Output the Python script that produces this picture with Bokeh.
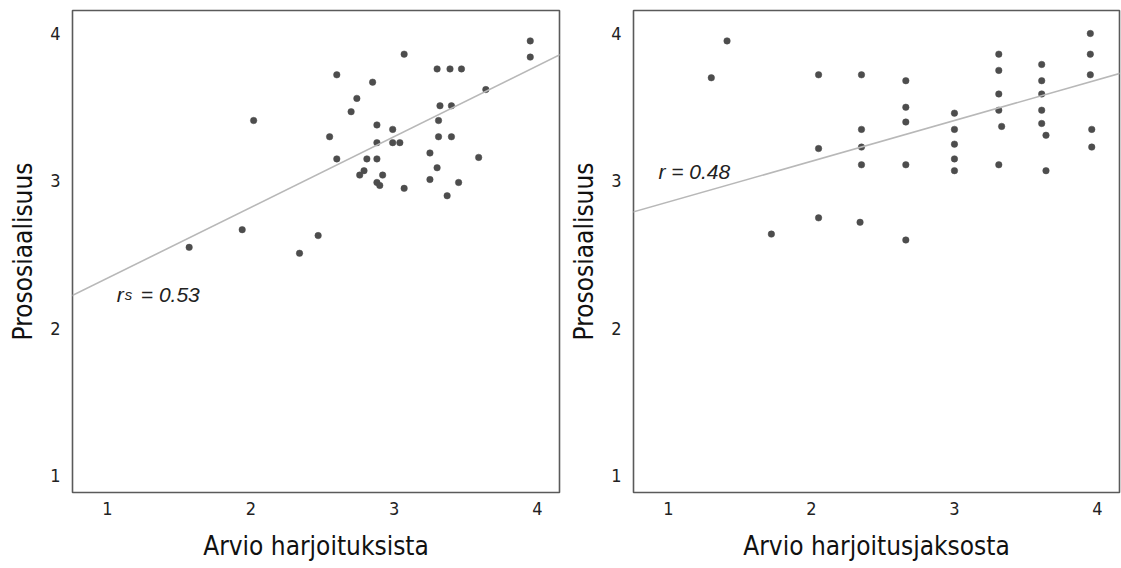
from bokeh.plotting import figure
from bokeh.layouts import row
from bokeh.models import Range1d, FixedTicker, Slope, Label, ColumnDataSource
from bokeh.embed import file_html
from bokeh.resources import INLINE

# ---------------- data ----------------
tick_values = [1, 2, 3, 4]

left_x = [3.95, 3.95, 3.07, 3.30, 3.39, 3.47, 2.60, 2.85, 3.64, 2.74, 2.70, 3.32, 3.40, 2.02,
          2.88, 2.99, 3.31, 2.55, 2.88, 2.99, 3.04, 3.31, 3.40, 3.25, 3.59, 2.60, 2.81, 2.88,
          3.30, 2.79, 2.76, 2.92, 3.25, 3.45, 2.88, 2.90, 3.07, 3.37, 1.94, 2.47, 1.57, 2.34]
left_y = [3.95, 3.84, 3.86, 3.76, 3.76, 3.76, 3.72, 3.67, 3.62, 3.56, 3.47, 3.51, 3.51, 3.41,
          3.38, 3.35, 3.41, 3.30, 3.26, 3.26, 3.26, 3.30, 3.30, 3.19, 3.16, 3.15, 3.15, 3.15,
          3.09, 3.07, 3.04, 3.04, 3.01, 2.99, 2.99, 2.97, 2.95, 2.90, 2.67, 2.63, 2.55, 2.51]

right_x = [1.41, 1.30, 1.72,
           2.05, 2.05, 2.05,
           2.35, 2.35, 2.35, 2.35, 2.34,
           2.66, 2.66, 2.66, 2.66, 2.66,
           3.00, 3.00, 3.00, 3.00, 3.00,
           3.31, 3.31, 3.31, 3.31, 3.33, 3.31,
           3.61, 3.61, 3.61, 3.61, 3.61, 3.64, 3.64,
           3.95, 3.95, 3.95, 3.96, 3.96]
right_y = [3.95, 3.70, 2.64,
           3.72, 3.22, 2.75,
           3.72, 3.35, 3.23, 3.11, 2.72,
           3.68, 3.50, 3.40, 3.11, 2.60,
           3.46, 3.35, 3.25, 3.15, 3.07,
           3.86, 3.75, 3.59, 3.48, 3.37, 3.11,
           3.79, 3.68, 3.59, 3.48, 3.39, 3.31, 3.07,
           4.00, 3.86, 3.72, 3.35, 3.23]

# fit lines: (intercept, slope)
left_fit = (1.861, 0.480)
right_fit = (2.582, 0.276)

y_title = "Prososiaalisuus"
left_x_title = "Arvio harjoituksista"
right_x_title = "Arvio harjoitusjaksosta"

X_RANGE = (0.756, 4.154)
Y_RANGE = (0.888, 4.156)

NARROW = "'DejaVu Sans Condensed', 'Liberation Sans Narrow', 'Liberation Sans', sans-serif"
DOT = "#4d4d4d"
FRAME = "#5a5a5a"
FIT = "#b8b8b8"


def make_panel(xs, ys, fit, xtitle, width, bl, br):
    p = figure(width=width, height=568, output_backend="svg", toolbar_location=None,
               x_range=Range1d(*X_RANGE), y_range=Range1d(*Y_RANGE),
               min_border_left=bl, min_border_right=br, min_border_top=10,
               min_border_bottom=76)
    p.grid.visible = False
    p.outline_line_color = FRAME
    p.outline_line_width = 1.6
    p.background_fill_color = "white"
    p.border_fill_color = "white"

    for ax in (p.xaxis[0], p.yaxis[0]):
        ax.ticker = FixedTicker(ticks=tick_values)
        ax.axis_line_color = None
        ax.major_tick_line_color = None
        ax.minor_tick_line_color = None
        ax.major_label_text_font = NARROW
        ax.major_label_text_font_size = "18px"
        ax.major_label_text_color = "#222222"
        ax.axis_label_text_font = NARROW
        ax.axis_label_text_font_size = "26px"
        ax.axis_label_text_font_style = "normal"
        ax.axis_label_text_color = "#111111"

    p.xaxis.axis_label = xtitle
    p.xaxis.major_label_standoff = 3
    p.xaxis.axis_label_standoff = 13
    p.yaxis.axis_label = y_title
    p.yaxis.major_label_standoff = 6
    p.yaxis.axis_label_standoff = 9

    p.add_layout(Slope(gradient=fit[1], y_intercept=fit[0], line_color=FIT, line_width=1.6))

    src = ColumnDataSource(dict(x=xs, y=ys))
    p.scatter("x", "y", source=src, size=6.5, fill_color=DOT, line_color=DOT, line_width=0.5)
    return p


left = make_panel(left_x, left_y, left_fit, left_x_title, 562, 72, 3)
right = make_panel(right_x, right_y, right_fit, right_x_title, 559, 71, 2)

common = dict(text_font="Liberation Sans", text_font_style="italic", text_color="#222222",
              text_baseline="alphabetic", text_align="left")

# r_s annotation (left)
left.add_layout(Label(x=1.065, y=2.23, text="r", text_font_size="21px", **common))
left.add_layout(Label(x=1.065, y=2.23, x_offset=8, text="s", text_font_size="15px", **common))
left.add_layout(Label(x=1.065, y=2.23, x_offset=24, text="= 0.53", text_font_size="21px", **common))

# r annotation (right)
right.add_layout(Label(x=0.93, y=3.066, text="r = 0.48", text_font_size="21px", **common))

layout = row(left, right)
open("out.html", "w").write(file_html(layout, INLINE))
